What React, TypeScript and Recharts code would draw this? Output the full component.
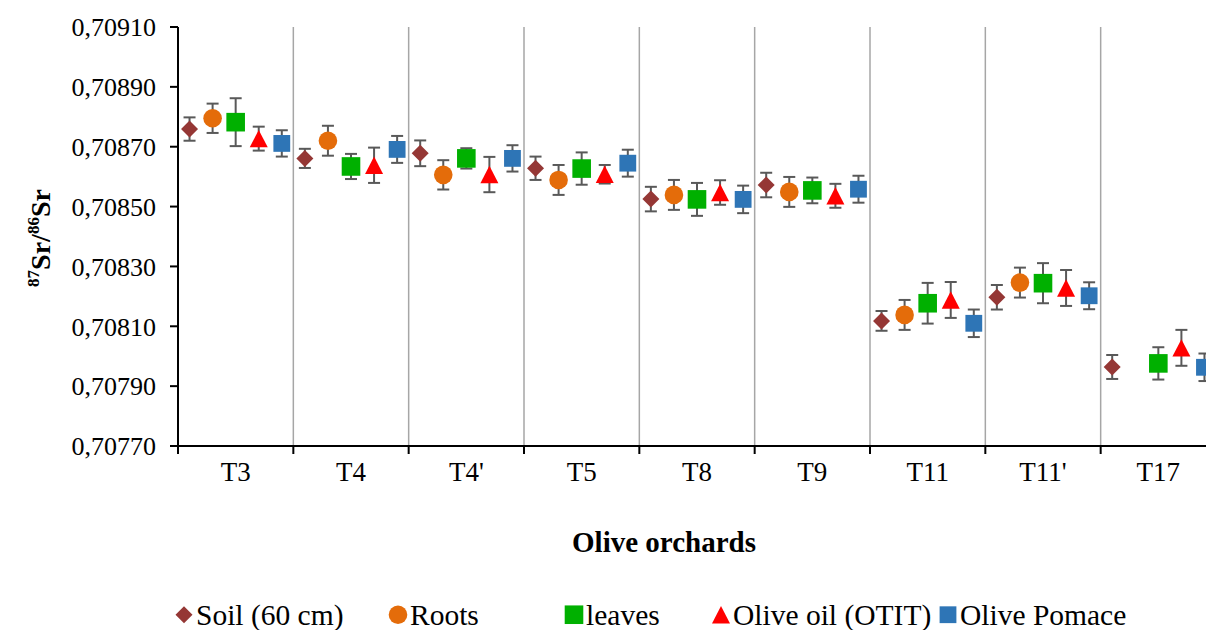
import React from 'react';
import { ScatterChart, Scatter, XAxis, YAxis, CartesianGrid, ErrorBar } from 'recharts';

// orchards along the x axis
const categories = ['T3', 'T4', "T4'", 'T5', 'T8', 'T9', 'T11', "T11'", 'T17'];

// 87Sr/86Sr means and their error bars, one entry per orchard
const soil = [0.708759, 0.708661, 0.708678, 0.708628, 0.708525, 0.708572, 0.708118, 0.708197, 0.707964];
const soilErr = [0.000039, 0.000032, 0.000043, 0.000039, 0.000041, 0.000041, 0.000033, 0.000041, 0.00004];
const roots = [0.708795, 0.70872, 0.708606, 0.708589, 0.708539, 0.708549, 0.708138, 0.708246, null];
const rootsErr = [0.000049, 0.00005, 0.000049, 0.00005, 0.00005, 0.00005, 0.00005, 0.00005, null];
const leaves = [0.708782, 0.708634, 0.708661, 0.708627, 0.708524, 0.708554, 0.708177, 0.708244, 0.707976];
const leavesErr = [0.00008, 0.000042, 0.000034, 0.000054, 0.000055, 0.000043, 0.000068, 0.000067, 0.000054];
const oil = [0.708727, 0.708638, 0.708607, 0.708608, 0.708547, 0.708536, 0.708188, 0.708228, 0.708028];
const oilErr = [0.00004, 0.000059, 0.000059, 0.000031, 0.000041, 0.00004, 0.00006, 0.00006, 0.00006];
const pomace = [0.708711, 0.708691, 0.708661, 0.708645, 0.708524, 0.708558, 0.70811, 0.708202, 0.707963];
const pomaceErr = [0.000044, 0.000045, 0.000044, 0.000045, 0.000046, 0.000045, 0.000046, 0.000045, 0.000046];

const yTicks = [0.7077, 0.7079, 0.7081, 0.7083, 0.7085, 0.7087, 0.7089, 0.7091];
const xBounds = [0, 1, 2, 3, 4, 5, 6, 7, 8, 9];

// layout
const CHART_W = 1230;
const CHART_H = 630;
const Y_AXIS_W = 178;
const MARGIN = { top: 27, right: 14, bottom: 144, left: 0 };
const PLOT_W = CHART_W - MARGIN.right - MARGIN.left - Y_AXIS_W;
const UNIT = PLOT_W / categories.length;
const FONT = "'Liberation Serif', Tinos, 'Times New Roman', Times, serif";
const ERR_COLOR = '#595959';

type Kind = 'diamond' | 'circle' | 'square' | 'bigsquare' | 'triangle';

const Marker = ({ kind, cx, cy, fill }: { kind: Kind; cx: number; cy: number; fill: string }) => {
  if (kind === 'diamond') {
    const r = 8.5;
    return <polygon points={`${cx},${cy - r} ${cx + r},${cy} ${cx},${cy + r} ${cx - r},${cy}`} fill={fill} />;
  }
  if (kind === 'circle') return <circle cx={cx} cy={cy} r={9.3} fill={fill} />;
  if (kind === 'bigsquare') return <rect x={cx - 9.3} y={cy - 9.3} width={18.6} height={18.6} fill={fill} />;
  if (kind === 'square') return <rect x={cx - 8.4} y={cy - 8.4} width={16.8} height={16.8} fill={fill} />;
  const h = 8.7;
  return <polygon points={`${cx},${cy - h} ${cx + 9},${cy + h} ${cx - 9},${cy + h}`} fill={fill} />;
};

const series = [
  { name: 'Soil (60 cm)', values: soil, errs: soilErr, color: '#953735', kind: 'diamond' as Kind, offset: -0.4 },
  { name: 'Roots', values: roots, errs: rootsErr, color: '#E46C0A', kind: 'circle' as Kind, offset: -0.2 },
  { name: 'leaves', values: leaves, errs: leavesErr, color: '#00B000', kind: 'bigsquare' as Kind, offset: 0 },
  { name: 'Olive oil (OTIT)', values: oil, errs: oilErr, color: '#FF0000', kind: 'triangle' as Kind, offset: 0.2 },
  { name: 'Olive Pomace', values: pomace, errs: pomaceErr, color: '#2E75B6', kind: 'square' as Kind, offset: 0.4 },
];

const legendX = [174, 388, 564, 711, 938];

const toPoints = (values: (number | null)[], errs: (number | null)[], offset: number) =>
  categories
    .map((c, i) => ({ name: c, x: i + 0.5 + offset, y: values[i], err: errs[i] }))
    .filter((p) => p.y !== null);

const CatTick = (props: any) => {
  const { x, y, payload } = props;
  const i = Math.round(payload.value);
  if (i >= categories.length) return null;
  return (
    <text x={x + UNIT / 2} y={y + 25} textAnchor="middle" fontSize={27} fontFamily={FONT} fill="#000">
      {categories[i]}
    </text>
  );
};

export default function App() {
  return (
    <div
      style={{
        position: 'absolute',
        left: 0,
        top: 0,
        width: 1206,
        height: 630,
        overflow: 'hidden',
        background: '#fff',
        fontFamily: FONT,
      }}
    >
      <ScatterChart width={CHART_W} height={CHART_H} margin={MARGIN}>
        <CartesianGrid horizontal={false} stroke="#a6a6a6" strokeWidth={1.5} />
        <XAxis
          type="number"
          dataKey="x"
          domain={[0, 9]}
          ticks={xBounds}
          interval={0}
          allowDataOverflow
          height={40}
          tick={<CatTick />}
          tickSize={8}
          axisLine={{ stroke: '#000', strokeWidth: 2 }}
          tickLine={{ stroke: '#000', strokeWidth: 2 }}
        />
        <YAxis
          type="number"
          dataKey="y"
          domain={[0.7077, 0.7091]}
          ticks={yTicks}
          interval={0}
          allowDataOverflow
          width={Y_AXIS_W}
          tickSize={8}
          tickMargin={14}
          tickFormatter={(v: number) => v.toFixed(5).replace('.', ',')}
          tick={{ fontSize: 26, fontFamily: FONT, fill: '#000' }}
          axisLine={{ stroke: '#000', strokeWidth: 2 }}
          tickLine={{ stroke: '#000', strokeWidth: 2 }}
        />
        {series.map((s) => (
          <Scatter
            key={s.name}
            name={s.name}
            data={toPoints(s.values, s.errs, s.offset)}
            isAnimationActive={false}
            shape={(p: any) => <Marker kind={s.kind} cx={p.cx} cy={p.cy} fill={s.color} />}
          >
            <ErrorBar
              dataKey="err"
              direction="y"
              width={6}
              stroke={ERR_COLOR}
              strokeWidth={2}
              isAnimationActive={false}
            />
          </Scatter>
        ))}
      </ScatterChart>

      {/* y axis title */}
      <div
        style={{
          position: 'absolute',
          left: 40,
          top: 238,
          transform: 'translate(-50%, -50%) rotate(-90deg)',
          fontWeight: 'bold',
          fontSize: 28,
          whiteSpace: 'nowrap',
          lineHeight: 1,
        }}
      >
        <sup style={{ fontSize: 17 }}>87</sup>Sr/<sup style={{ fontSize: 17 }}>86</sup>Sr
      </div>

      {/* x axis title */}
      <div
        style={{
          position: 'absolute',
          left: 664,
          top: 542,
          transform: 'translate(-50%, -50%)',
          fontWeight: 'bold',
          fontSize: 29,
          whiteSpace: 'nowrap',
          lineHeight: 1,
        }}
      >
        Olive orchards
      </div>

      {/* legend */}
      {series.map((s, i) => (
        <div
          key={s.name}
          style={{
            position: 'absolute',
            left: legendX[i],
            top: 615,
            transform: 'translateY(-50%)',
            display: 'flex',
            alignItems: 'center',
            fontSize: 29.5,
            whiteSpace: 'nowrap',
            lineHeight: 0.9,
          }}
        >
          <svg width={20} height={20} style={{ marginRight: 2 }}>
            <Marker kind={s.kind} cx={10} cy={10} fill={s.color} />
          </svg>
          {s.name}
        </div>
      ))}
    </div>
  );
}
